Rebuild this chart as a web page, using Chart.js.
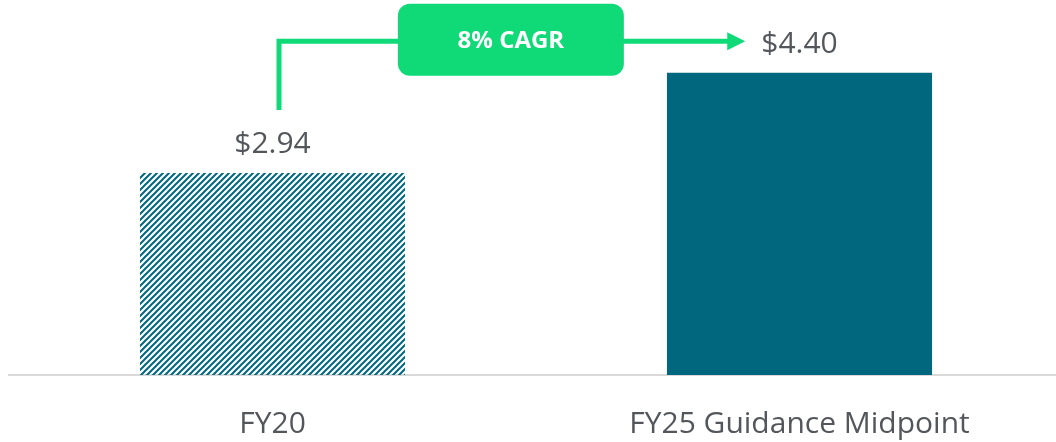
<!DOCTYPE html>
<html>
<head>
<meta charset="utf-8">
<script src="https://cdn.jsdelivr.net/npm/chart.js@4"></script>
<style>
  body { margin: 0; background: #ffffff; overflow: hidden; }
  #wrap { position: relative; width: 1064px; height: 442px; }
</style>
</head>
<body>
<div id="wrap"><canvas id="epsChart"></canvas></div>
<script>
// Data for the chart
const categories = ["FY20", "FY25 Guidance Midpoint"];
const epsValues = [2.94, 4.40];
const valueLabels = ["$2.94", "$4.40"];
const cagrLabel = "8% CAGR";

const barColor = "#00677f";
const arrowGreen = "#10da78";
const textGray = "#53575c";

// Hatched fill for the FY20 bar
function makeHatch() {
    const c = document.createElement("canvas");
    c.width = 6;
    c.height = 6;
    const g = c.getContext("2d");
    g.strokeStyle = barColor;
    g.lineWidth = 2;
    g.beginPath();
    g.moveTo(0, 6); g.lineTo(6, 0);
    g.moveTo(-3, 3); g.lineTo(3, -3);
    g.moveTo(3, 9); g.lineTo(9, 3);
    g.stroke();
    return g.createPattern(c, "repeat");
}

// Value labels above bars + CAGR arrow
const annotations = {
    id: "annotations",
    afterDatasetsDraw(chart) {
        const ctx = chart.ctx;
        const bars = chart.getDatasetMeta(0).data;
        ctx.save();
        ctx.font = "30px 'Open Sans'";
        ctx.fillStyle = textGray;
        ctx.textAlign = "center";
        ctx.textBaseline = "alphabetic";
        bars.forEach((bar, i) => {
            ctx.fillText(valueLabels[i], bar.x, bar.y - 20);
        });

        // arrow path
        const b1 = bars[0], b2 = bars[1];
        const x0 = b1.x + 6.5;
        const yBottom = b1.y - 63;
        const yLine = b2.y - 31.5;
        const lbl2 = ctx.measureText(valueLabels[1]).width;
        const tipX = b2.x - lbl2 / 2 - 16;
        ctx.strokeStyle = arrowGreen;
        ctx.fillStyle = arrowGreen;
        ctx.lineWidth = 5;
        ctx.lineJoin = "miter";
        ctx.beginPath();
        ctx.moveTo(x0, yBottom);
        ctx.lineTo(x0, yLine);
        ctx.lineTo(tipX - 17, yLine);
        ctx.stroke();
        ctx.beginPath();
        ctx.moveTo(tipX - 18, yLine - 9);
        ctx.lineTo(tipX, yLine);
        ctx.lineTo(tipX - 18, yLine + 9);
        ctx.closePath();
        ctx.fill();

        // CAGR box
        const cx = (x0 - 2.5 + tipX) / 2;
        const bw = 226, bh = 72;
        ctx.beginPath();
        ctx.roundRect(cx - bw / 2, yLine - 1.5 - bh / 2, bw, bh, 12);
        ctx.fill();
        ctx.fillStyle = "#ffffff";
        ctx.font = "bold 24px 'Open Sans'";
        ctx.textBaseline = "middle";
        ctx.fillText(cagrLabel, cx, yLine);
        ctx.restore();
    }
};

new Chart("epsChart", {
    type: "bar",
    data: {
        labels: categories,
        datasets: [{
            data: epsValues,
            backgroundColor: [makeHatch(), barColor],
            barPercentage: 1,
            categoryPercentage: 0.503
        }]
    },
    options: {
        responsive: true,
        maintainAspectRatio: false,
        animation: false,
        layout: { padding: { left: 9, right: 1, top: 0, bottom: 0 } },
        plugins: {
            legend: { display: false },
            tooltip: { enabled: false }
        },
        scales: {
            y: { display: false, min: 0, max: 5.46 },
            x: {
                grid: { display: false, drawTicks: false },
                border: { display: true, color: "#d9d9d9", width: 2 },
                ticks: {
                    color: textGray,
                    padding: 31,
                    font: { family: "'Open Sans'", size: 30 }
                },
                afterFit(scale) { scale.height = 67; }
            }
        }
    },
    plugins: [annotations]
});
</script>
</body>
</html>
